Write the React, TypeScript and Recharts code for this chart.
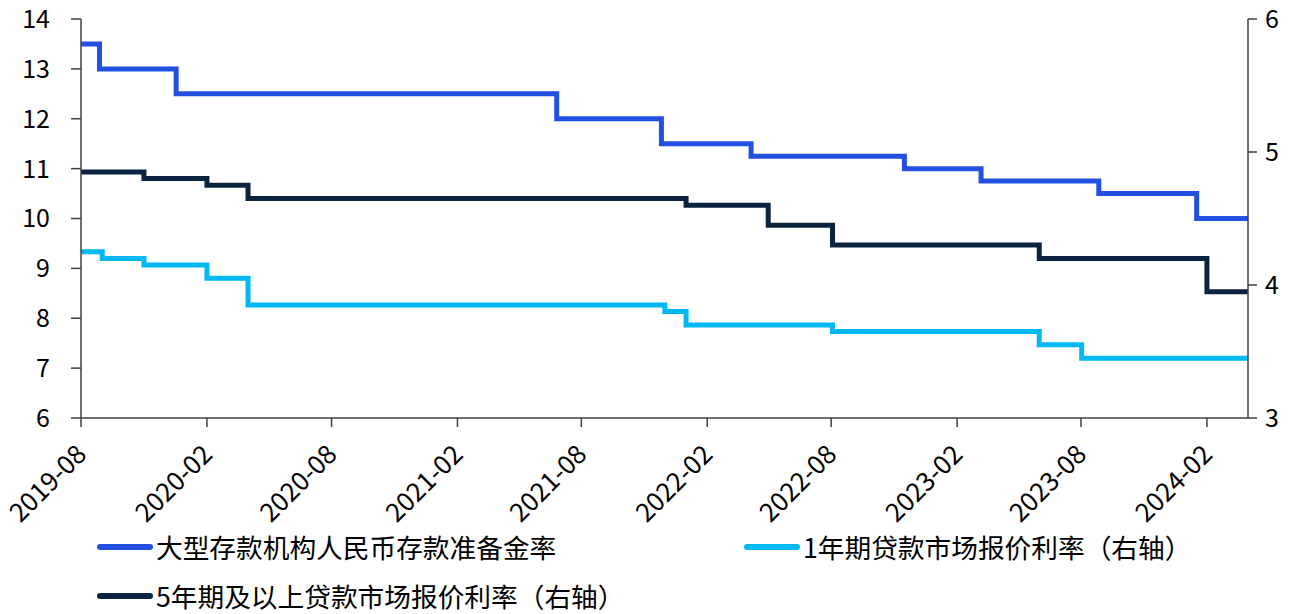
import React from "react"
import { LineChart, Line, XAxis, YAxis } from "recharts"

const rrrDates = ["2019-08-20", "2019-09-16", "2020-01-06", "2021-07-15", "2021-12-15", "2022-04-25", "2022-12-05", "2023-03-27", "2023-09-15", "2024-02-05", "2024-04-20"]
const rrrValues = [13.5, 13, 12.5, 12, 11.5, 11.25, 11, 10.75, 10.5, 10, 10]

const lpr1Dates = ["2019-08-20", "2019-09-20", "2019-11-20", "2020-02-20", "2020-04-20", "2021-12-20", "2022-01-20", "2022-08-22", "2023-06-20", "2023-08-21", "2024-04-20"]
const lpr1Values = [4.25, 4.2, 4.15, 4.05, 3.85, 3.8, 3.7, 3.65, 3.55, 3.45, 3.45]

const lpr5Dates = ["2019-08-20", "2019-11-20", "2020-02-20", "2020-04-20", "2022-01-20", "2022-05-20", "2022-08-22", "2023-06-20", "2024-02-20", "2024-04-20"]
const lpr5Values = [4.85, 4.8, 4.75, 4.65, 4.6, 4.45, 4.3, 4.2, 3.95, 3.95]

const xTickDates = ["2019-08-20", "2020-02-20", "2020-08-20", "2021-02-20", "2021-08-20", "2022-02-20", "2022-08-20", "2023-02-20", "2023-08-20", "2024-02-20"]
const leftTicks = [6, 7, 8, 9, 10, 11, 12, 13, 14]
const rightTicks = [3, 4, 5, 6]

const seriesNames = ["大型存款机构人民币存款准备金率", "1年期贷款市场报价利率（右轴）", "5年期及以上贷款市场报价利率（右轴）"]
const colors = ["#2350E2", "#00B9F2", "#0C2340"]

const FONT = '"Noto Sans CJK SC", "Noto Sans", sans-serif'
const AXIS = "#404040"

const ts = (s: string) => Date.parse(s + "T00:00:00Z")
const toRows = (dates: string[], vals: number[]) => dates.map((d, i) => ({ t: ts(d), v: vals[i] }))

const rrrData = toRows(rrrDates, rrrValues)
const lpr1Data = toRows(lpr1Dates, lpr1Values)
const lpr5Data = toRows(lpr5Dates, lpr5Values)

const fmtMonth = (t: number) => {
  const d = new Date(t)
  return `${d.getUTCFullYear()}-${String(d.getUTCMonth() + 1).padStart(2, "0")}`
}

const XTick = (props: any) => {
  const { x, y, payload } = props
  const ax = x + 7
  const ay = y + 29
  return (
    <text
      x={ax}
      y={ay}
      transform={`rotate(-45, ${ax}, ${ay})`}
      textAnchor="end"
      fontSize={26}
      fontFamily={FONT}
      fill="#000"
    >
      {fmtMonth(payload.value)}
    </text>
  )
}

const LegendItem = ({ name, color, left, top }: { name: string; color: string; left: number; top: number }) => (
  <div style={{ position: "absolute", left, top, display: "flex", alignItems: "center", height: 30 }}>
    <div style={{ width: 56, height: 6, borderRadius: 3, background: color }} />
    <span style={{ marginLeft: 3, fontSize: 26.7, fontFamily: FONT, color: "#000", whiteSpace: "nowrap", lineHeight: "30px" }}>
      {name}
    </span>
  </div>
)

const App: React.FC = () => {
  return (
    <div style={{ position: "absolute", left: 0, top: 0, width: 1296, height: 614, background: "#fff" }}>
      <LineChart width={1296} height={614} margin={{ top: 19, right: 0, left: 0, bottom: 86 }}>
        <XAxis
          dataKey="t"
          type="number"
          scale="time"
          domain={[ts("2019-08-20"), ts("2024-04-20")]}
          ticks={xTickDates.map(ts)}
          tick={<XTick />}
          tickSize={9}
          tickMargin={0}
          height={110}
          stroke={AXIS}
          strokeWidth={1.5}
          allowDataOverflow
        />
        <YAxis
          yAxisId="left"
          domain={[6, 14]}
          ticks={leftTicks}
          width={81}
          tickSize={10}
          tickMargin={21}
          stroke={AXIS}
          strokeWidth={1.5}
          tick={{ fontSize: 25, fontFamily: FONT, fill: "#000" }}
          interval={0}
        />
        <YAxis
          yAxisId="right"
          orientation="right"
          domain={[3, 6]}
          ticks={rightTicks}
          width={48}
          tickSize={9}
          tickMargin={8}
          stroke={AXIS}
          strokeWidth={1.5}
          tick={{ fontSize: 25, fontFamily: FONT, fill: "#000" }}
          interval={0}
        />
        <Line
          yAxisId="left"
          data={rrrData}
          dataKey="v"
          type="stepAfter"
          stroke={colors[0]}
          strokeWidth={5}
          dot={false}
          isAnimationActive={false}
        />
        <Line
          yAxisId="right"
          data={lpr1Data}
          dataKey="v"
          type="stepAfter"
          stroke={colors[1]}
          strokeWidth={5}
          dot={false}
          isAnimationActive={false}
        />
        <Line
          yAxisId="right"
          data={lpr5Data}
          dataKey="v"
          type="stepAfter"
          stroke={colors[2]}
          strokeWidth={5}
          dot={false}
          isAnimationActive={false}
        />
      </LineChart>
      <LegendItem name={seriesNames[0]} color={colors[0]} left={97} top={532} />
      <LegendItem name={seriesNames[1]} color={colors[1]} left={744} top={532} />
      <LegendItem name={seriesNames[2]} color={colors[2]} left={97} top={581} />
    </div>
  )
}

export default App
